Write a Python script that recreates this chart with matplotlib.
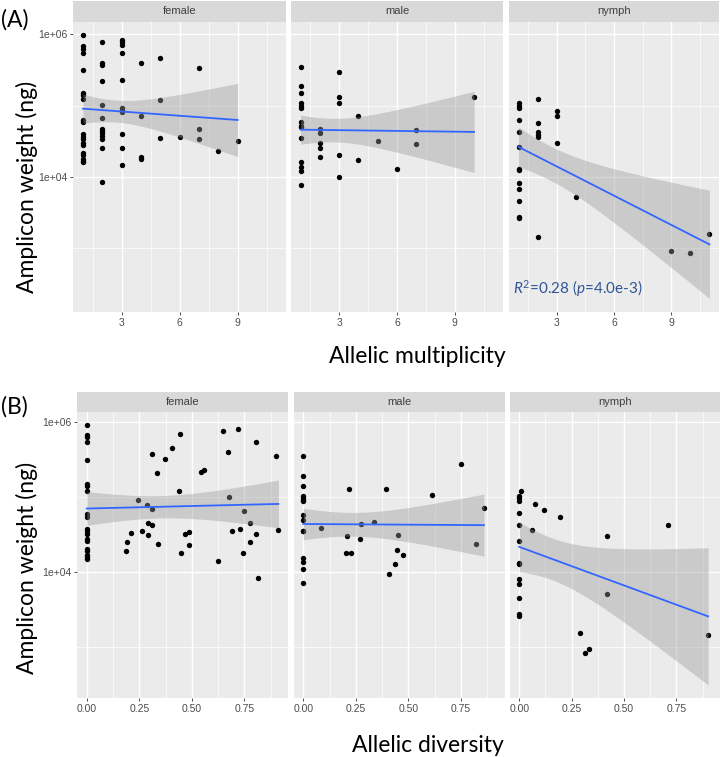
import math
import numpy as np
import matplotlib
matplotlib.use("Agg")
import matplotlib.pyplot as plt
from matplotlib.ticker import FixedLocator, FixedFormatter, NullFormatter

# ---------------- data (amplicon weight in ng) ----------------
facets = ["female", "male", "nymph"]

# Panel A: allelic multiplicity
a_female_x = [1, 1, 1, 1, 1, 1, 1, 1, 1, 1, 1, 1, 1, 1, 1, 1, 1, 1, 1, 1,
              2, 2, 2, 2, 2, 2, 2, 2, 2, 2, 2, 2, 2,
              3, 3, 3, 3, 3, 3, 3, 3, 3, 3, 3,
              4, 4, 4, 4, 5, 5, 5, 6, 7, 7, 7, 8, 9]
a_female_w = [9.8e5, 6.8e5, 6.3e5, 5.5e5, 3.1e5, 1.5e5, 1.4e5, 1.25e5, 6.2e4, 5.8e4,
              4.0e4, 3.6e4, 3.4e4, 3.0e4, 2.8e4, 2.15e4, 2.0e4, 1.8e4, 1.65e4, 1.6e4,
              7.8e5, 4.0e5, 3.7e5, 2.2e5, 1.02e5, 6.6e4, 4.7e4, 4.4e4, 4.1e4, 3.7e4, 3.4e4, 2.5e4, 8.5e3,
              8.3e5, 7.8e5, 7.1e5, 5.5e5, 2.3e5, 9.3e4, 8.7e4, 8.1e4, 4.0e4, 2.5e4, 1.45e4,
              4.0e5, 7.2e4, 1.9e4, 1.8e4, 4.7e5, 1.2e5, 3.5e4, 3.6e4, 3.4e5, 4.7e4, 3.4e4, 2.3e4, 3.2e4]

a_male_x = [1, 1, 1, 1, 1, 1, 1, 1, 1, 1, 1, 1, 1, 1,
            2, 2, 2, 2, 2, 3, 3, 3, 3, 3, 4, 4, 5, 6, 7, 7, 10]
a_male_w = [3.5e5, 1.9e5, 1.5e5, 1.07e5, 1.0e5, 9.1e4, 5.8e4, 5.2e4, 5.0e4, 3.5e4, 1.6e4, 1.35e4, 1.2e4, 7.6e3,
            4.7e4, 4.1e4, 3.0e4, 2.5e4, 1.9e4, 3.0e5, 1.3e5, 1.1e5, 2.0e4, 1.0e4,
            7.2e4, 1.7e4, 3.2e4, 1.3e4, 4.5e4, 2.9e4, 1.3e5]

a_nymph_x = [1, 1, 1, 1, 1, 1, 1, 1, 1, 1, 1, 1, 1,
             2, 2, 2, 2, 2, 2, 3, 3, 3, 4, 9, 10, 11]
a_nymph_w = [1.07e5, 1.0e5, 9.1e4, 6.3e4, 4.3e4, 2.6e4, 1.3e4, 1.26e4, 8.3e3, 6.8e3, 4.6e3, 2.7e3, 2.6e3,
             1.25e5, 5.6e4, 4.3e4, 3.9e4, 3.6e4, 1.45e3, 8.5e4, 7.1e4, 3.0e4, 5.2e3, 910, 850, 1.55e3]

# Panel B: allelic diversity
b_female_x = [0, 0, 0, 0, 0, 0, 0, 0, 0, 0, 0, 0, 0, 0, 0, 0, 0, 0, 0, 0,
              0.444, 0.649, 0.718, 0.804, 0.406, 0.312, 0.372, 0.674, 0.899, 0.334,
              0.542, 0.557, 0.439, 0.245, 0.287, 0.309, 0.679, 0.749, 0.293, 0.309,
              0.264, 0.210, 0.290, 0.193, 0.185, 0.338, 0.466, 0.487, 0.487, 0.449,
              0.626, 0.690, 0.728, 0.776, 0.804, 0.776, 0.745, 0.912, 0.814]
b_female_w = [9.3e5, 6.8e5, 6.3e5, 5.4e5, 3.1e5, 1.5e5, 1.4e5, 1.2e5, 6.0e4, 5.5e4,
              3.8e4, 3.5e4, 3.2e4, 2.75e4, 2.6e4, 2.0e4, 1.9e4, 1.7e4, 1.6e4, 1.5e4,
              6.9e5, 7.6e5, 8.1e5, 5.4e5, 4.5e5, 3.8e5, 3.2e5, 4.0e5, 3.6e5, 2.1e5,
              2.2e5, 2.3e5, 1.2e5, 9.1e4, 7.9e4, 6.9e4, 1.02e5, 6.5e4, 4.5e4, 4.2e4,
              3.5e4, 3.3e4, 3.1e4, 2.5e4, 1.9e4, 2.4e4, 3.2e4, 3.4e4, 2.3e4, 1.8e4,
              1.4e4, 3.5e4, 3.8e4, 4.5e4, 3.2e4, 2.5e4, 1.8e4, 3.6e4, 8.3e3]

b_male_x = [0, 0, 0, 0, 0, 0, 0, 0, 0, 0, 0, 0, 0, 0, 0,
            0.083, 0.219, 0.207, 0.201, 0.225, 0.273, 0.271, 0.338, 0.392, 0.407,
            0.452, 0.445, 0.476, 0.438, 0.613, 0.750, 0.824, 0.860]
b_male_w = [3.5e5, 1.9e5, 1.4e5, 1.05e5, 9.8e4, 9.3e4, 8.9e4, 5.8e4, 4.9e4, 3.5e4, 3.5e4,
            1.55e4, 1.35e4, 1.1e4, 7.2e3,
            3.9e4, 1.3e5, 3.0e4, 1.8e4, 1.8e4, 4.4e4, 2.8e4, 4.6e4, 1.3e5, 9.5e3,
            3.1e4, 1.95e4, 1.7e4, 1.26e4, 1.07e5, 2.8e5, 2.4e4, 7.2e4]

b_nymph_x = [0, 0, 0, 0, 0, 0, 0, 0, 0, 0, 0, 0, 0,
             0.010, 0.076, 0.119, 0.195, 0.059, 0.419, 0.710, 0.419, 0.288, 0.315, 0.332, 0.901]
b_nymph_w = [1.05e5, 9.8e4, 8.9e4, 6.2e4, 4.3e4, 2.6e4, 1.3e4, 1.26e4, 8.1e3, 6.8e3, 4.5e3, 2.7e3, 2.6e3,
             1.2e5, 8.1e4, 6.8e4, 5.5e4, 3.6e4, 3.0e4, 4.2e4, 5.1e3, 1.55e3, 830, 930, 1.45e3]

a_xticks = [3, 6, 9]
a_xticklabels = ["3", "6", "9"]
b_xticks = [0.0, 0.25, 0.50, 0.75]
b_xticklabels = ["0.00", "0.25", "0.50", "0.75"]
y_ticks = [1e2, 1e4, 1e6]
y_ticklabels = ["1e+02", "1e+04", "1e+06"]
y_minor = [1e3, 1e5, 1e7]

annot_text = r"$R^2$=0.28 ($p$=4.0e-3)"

# ---------------- helpers ----------------
W, H = 720, 757
plt.rcParams["mathtext.fontset"] = "custom"
plt.rcParams["mathtext.rm"] = "Lato"
plt.rcParams["mathtext.it"] = "Lato:italic"

BIG = dict(family="Lato", fontsize=16.5, color="black")
TICK_C = "#4D4D4D"


def t_quant(p, df):
    c = math.exp(math.lgamma((df + 1) / 2) - math.lgamma(df / 2)) / math.sqrt(df * math.pi)
    ts = np.linspace(0, 12, 120001)
    pdf = c * (1 + ts ** 2 / df) ** (-(df + 1) / 2)
    cdf = 0.5 + np.concatenate([[0], np.cumsum((pdf[1:] + pdf[:-1]) / 2 * np.diff(ts))])
    return float(np.interp(p, cdf, ts))


def fit(x, w):
    x = np.asarray(x, float)
    ly = np.log10(np.asarray(w, float))
    n = len(x)
    b1, b0 = np.polyfit(x, ly, 1)
    res = ly - (b0 + b1 * x)
    s = math.sqrt(np.sum(res ** 2) / (n - 2))
    xbar = x.mean()
    sxx = np.sum((x - xbar) ** 2)
    xs = np.linspace(x.min(), x.max(), 80)
    yh = b0 + b1 * xs
    se = s * np.sqrt(1 / n + (xs - xbar) ** 2 / sxx)
    t = t_quant(0.975, n - 2)
    return xs, yh, yh - t * se, yh + t * se


def rect(x0, x1, ytop, ybot):
    return [x0 / W, 1 - ybot / H, (x1 - x0) / W, (ybot - ytop) / H]


def draw_row(fig, data, xticks, xticklabels, xminor, cols, ytop_strip, ytop, ybot):
    fits = [fit(x, w) for x, w in data]
    lo = min(min(np.log10(w).min(), f[2].min()) for (x, w), f in zip(data, fits))
    hi = max(max(np.log10(w).max(), f[3].max()) for (x, w), f in zip(data, fits))
    span = hi - lo
    ylim = (10 ** (lo - 0.05 * span), 10 ** (hi + 0.05 * span))
    allx = np.concatenate([np.asarray(x, float) for x, w in data])
    xr = allx.max() - allx.min()
    xlim = (allx.min() - 0.05 * xr, allx.max() + 0.05 * xr)
    axes = []
    for i, ((x, w), f, (x0, x1)) in enumerate(zip(data, fits, cols)):
        ax = fig.add_axes(rect(x0, x1, ytop, ybot))
        ax.set_facecolor("#EBEBEB")
        ax.set_yscale("log")
        ax.set_xlim(*xlim)
        ax.set_ylim(*ylim)
        for s in ax.spines.values():
            s.set_visible(False)
        ax.yaxis.set_major_locator(FixedLocator(y_ticks))
        ax.yaxis.set_minor_locator(FixedLocator(y_minor))
        ax.yaxis.set_minor_formatter(NullFormatter())
        ax.xaxis.set_major_locator(FixedLocator(xticks))
        ax.xaxis.set_minor_locator(FixedLocator(xminor))
        ax.xaxis.set_major_formatter(FixedFormatter(xticklabels))
        if i == 0:
            ax.yaxis.set_major_formatter(FixedFormatter(y_ticklabels))
        else:
            ax.yaxis.set_major_formatter(NullFormatter())
        ax.tick_params(which="major", length=2.3, width=0.6, color="#333333",
                       labelsize=7.5, labelcolor=TICK_C, pad=2)
        ax.tick_params(axis="y", which="major", length=2.3 if i == 0 else 0)
        ax.tick_params(which="minor", length=0)
        for lab in ax.get_xticklabels() + ax.get_yticklabels():
            lab.set_family("Liberation Sans")
        ax.grid(True, which="major", color="white", linewidth=1.0)
        ax.grid(True, which="minor", color="white", linewidth=0.5)
        ax.set_axisbelow(True)
        ax.scatter(x, w, s=15, color="black", linewidths=0, zorder=2)
        xs, yh, ylo, yhi = f
        ax.fill_between(xs, 10 ** ylo, 10 ** yhi, color="#999999", alpha=0.4, linewidth=0, zorder=3)
        ax.plot(xs, 10 ** yh, color="#3366FF", linewidth=1.3, zorder=4)
        sax = fig.add_axes(rect(x0, x1, ytop_strip, ytop))
        sax.set_facecolor("#D9D9D9")
        sax.set_xticks([])
        sax.set_yticks([])
        for s in sax.spines.values():
            s.set_visible(False)
        sax.text(0.5, 0.5, facets[i], ha="center", va="center", fontsize=8,
                 family="Liberation Sans", color="#404040", transform=sax.transAxes)
        axes.append(ax)
    return axes


fig = plt.figure(figsize=(W / 100, H / 100), dpi=100)
fig.patch.set_facecolor("white")

# Panel A
axA = draw_row(fig,
               [(a_female_x, a_female_w), (a_male_x, a_male_w), (a_nymph_x, a_nymph_w)],
               a_xticks, a_xticklabels, [1.5, 4.5, 7.5, 10.5],
               [(73.4, 286), (291, 503), (509, 719)], 0.5, 21.7, 311.7)
# Panel B
axB = draw_row(fig,
               [(b_female_x, b_female_w), (b_male_x, b_male_w), (b_nymph_x, b_nymph_w)],
               b_xticks, b_xticklabels, [0.125, 0.375, 0.625, 0.875],
               [(77.2, 288), (293.7, 504.5), (509.7, 720)], 391.7, 411.7, 698)

axA[2].text(0.02, 0.045, annot_text, transform=axA[2].transAxes, ha="left", va="bottom",
            fontsize=11, family="Lato", color="#2F5597", zorder=6)

# big labels
fig.text(1 / W, 1 - 20 / H, "(A)", ha="left", va="center", **BIG)
fig.text(1 / W, 1 - 407 / H, "(B)", ha="left", va="center", **BIG)
fig.text(27 / W, 1 - 187 / H, "Amplicon weight (ng)", rotation=90, ha="center", va="center", **BIG)
fig.text(27 / W, 1 - 568 / H, "Amplicon weight (ng)", rotation=90, ha="center", va="center", **BIG)
fig.text(417 / W, 1 - 357 / H, "Allelic multiplicity", ha="center", va="center", **BIG)
fig.text(428 / W, 1 - 745 / H, "Allelic diversity", ha="center", va="center", **BIG)

fig.savefig("out.png", dpi=100)
